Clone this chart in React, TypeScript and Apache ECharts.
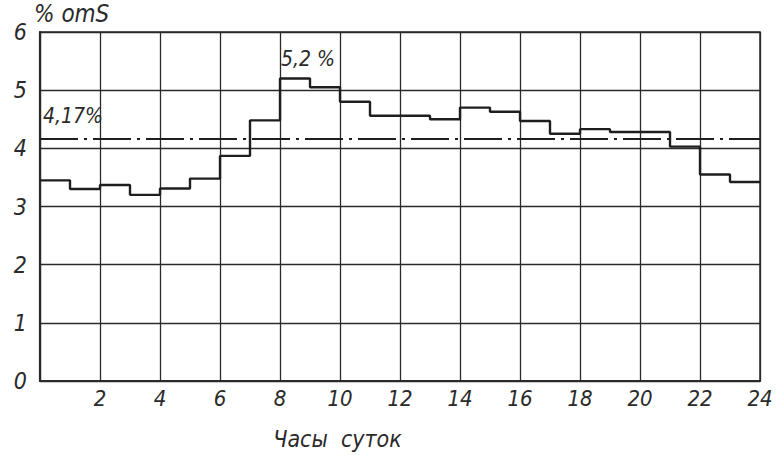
import React, { useEffect, useRef } from "react";
import * as echarts from "echarts";

const hours = [0, 1, 2, 3, 4, 5, 6, 7, 8, 9, 10, 11, 12, 13, 14, 15, 16, 17, 18, 19, 20, 21, 22, 23];
const loadPct = [3.45, 3.3, 3.37, 3.2, 3.31, 3.48, 3.87, 4.48, 5.2, 5.05, 4.8, 4.56, 4.56, 4.5, 4.7, 4.63, 4.47, 4.25, 4.33, 4.28, 4.28, 4.03, 3.55, 3.42];
const averagePct = 4.17;
const yTicks = [0, 1, 2, 3, 4, 5, 6];
const xTickLabels = ["", "2", "4", "6", "8", "10", "12", "14", "16", "18", "20", "22", "24"];

const FONT = "'DejaVu Sans Condensed', 'Liberation Sans Narrow', 'DejaVu Sans', sans-serif";
const INK = "#2a2a2a";

export default function App() {
  const ref = useRef<HTMLDivElement>(null);
  useEffect(() => {
    if (!ref.current) return;
    const chart = echarts.init(ref.current, undefined, { renderer: "svg" });
    const stepData = hours.map((h, i) => [h, loadPct[i]]);
    stepData.push([24, loadPct[loadPct.length - 1]]);
    chart.setOption({
      animation: false,
      backgroundColor: "#ffffff",
      grid: { left: 40, right: 24, top: 32, bottom: 71, show: true, borderColor: INK, borderWidth: 1.5 },
      xAxis: {
        type: "value",
        min: 0,
        max: 24,
        interval: 2,
        axisLine: { show: true, lineStyle: { color: INK, width: 2.2 } },
        axisTick: { show: false },
        splitLine: { show: true, lineStyle: { color: INK, width: 1.3 } },
        axisLabel: {
          fontFamily: FONT,
          fontStyle: "italic",
          fontSize: 22,
          color: INK,
          margin: 6,
          formatter: (v: number) => xTickLabels[Math.round(v / 2)] ?? "",
        },
        name: "Часы  суток",
        nameLocation: "middle",
        nameGap: 46,
        nameTextStyle: { fontFamily: FONT, fontStyle: "italic", fontSize: 23, color: INK, padding: [0, 125, 0, 0] },
      },
      yAxis: {
        type: "value",
        min: yTicks[0],
        max: yTicks[yTicks.length - 1],
        interval: 1,
        axisLine: { show: true, lineStyle: { color: INK, width: 2.2 } },
        axisTick: { show: false },
        splitLine: { show: true, lineStyle: { color: INK, width: 1.3 } },
        axisLabel: {
          fontFamily: FONT,
          fontStyle: "italic",
          fontSize: 23,
          color: INK,
          margin: 13,
        },
      },
      graphic: [
        {
          type: "text",
          left: 34,
          top: 2,
          style: { text: "% omS", font: `italic 24px ${FONT}`, fill: INK },
        },
      ],
      series: [
        {
          type: "line",
          step: "end",
          data: stepData,
          symbol: "none",
          lineStyle: { color: "#1e1e1e", width: 2.4 },
          markLine: {
            silent: true,
            symbol: "none",
            label: { show: false },
            lineStyle: { color: "#1e1e1e", width: 2.2, type: [38, 6, 3, 6] },
            data: [{ yAxis: averagePct }],
          },
          markPoint: {
            symbol: "circle",
            symbolSize: 0,
            data: [
              {
                coord: [9, 5.2],
                label: {
                  show: true,
                  formatter: "5,2 %",
                  fontFamily: FONT,
                  fontStyle: "italic",
                  fontSize: 21,
                  color: INK,
                  offset: [-2, -20],
                },
              },
              {
                coord: [1.1, averagePct],
                label: {
                  show: true,
                  formatter: "4,17%",
                  fontFamily: FONT,
                  fontStyle: "italic",
                  fontSize: 21,
                  color: INK,
                  offset: [0, -22],
                },
              },
            ],
          },
        },
      ],
    });
    return () => chart.dispose();
  }, []);
  return <div ref={ref} style={{ width: 784, height: 455, position: "absolute", left: 0, top: 0 }} />;
}
